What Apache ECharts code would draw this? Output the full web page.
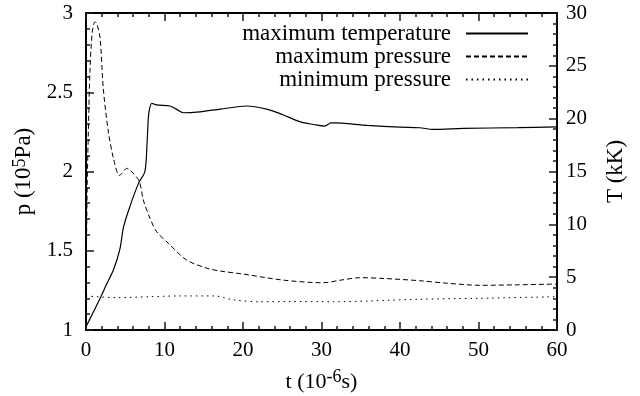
<!DOCTYPE html>
<html>
<head>
<meta charset="utf-8">
<script src="https://cdn.jsdelivr.net/npm/echarts@6/dist/echarts.min.js"></script>
<style>
  html, body { margin: 0; padding: 0; background: #fff; }
  #chart { width: 640px; height: 396px; }
</style>
</head>
<body>
<div id="chart"></div>
<script>
// time in 10^-6 s, temperature in kK, pressure in 10^5 Pa
let tempTime = [0, 0.8, 1.8, 2.6, 3.5, 4.3, 4.8, 5.6, 6.7, 7.5, 7.8, 8.0, 8.4, 9.0, 10.7, 11.5, 12.4, 14.5, 17.1, 20.5, 23.0, 25.0, 27.3, 29.0, 30.4, 31.2, 31.5, 35.8, 40.0, 42.5, 44.2, 48.1, 55.0, 60.0];
let tempMax = [0.3, 1.5, 3.0, 4.3, 5.7, 7.6, 9.8, 11.7, 13.9, 15.0, 18.0, 20.5, 21.45, 21.3, 21.2, 20.9, 20.56, 20.65, 20.9, 21.2, 20.9, 20.4, 19.7, 19.45, 19.3, 19.6, 19.6, 19.37, 19.2, 19.14, 18.99, 19.08, 19.15, 19.23];

let pmaxTime = [0, 0.15, 0.3, 0.5, 0.8, 1.15, 1.4, 1.8, 2.2, 2.85, 3.5, 4.25, 4.6, 5.2, 6.0, 6.8, 7.3, 8.15, 9.0, 10.5, 12.8, 15.4, 17.1, 20.0, 25.1, 30.2, 32.5, 34.9, 38.0, 42.5, 46.0, 50.2, 55.0, 60.0];
let pMax = [1.21, 1.9, 2.25, 2.63, 2.88, 2.945, 2.93, 2.84, 2.525, 2.25, 2.083, 1.974, 1.99, 2.02, 1.99, 1.936, 1.82, 1.705, 1.62, 1.547, 1.442, 1.39, 1.372, 1.353, 1.315, 1.298, 1.315, 1.33, 1.325, 1.311, 1.295, 1.282, 1.285, 1.29];

let pminTime = [0, 3.9, 8.0, 12.0, 16.5, 17.5, 18.8, 22.2, 26.0, 31.5, 36.0, 42.5, 50.0, 60.0];
let pMin = [1.215, 1.204, 1.21, 1.215, 1.215, 1.205, 1.19, 1.178, 1.18, 1.178, 1.183, 1.194, 1.2, 1.21];

let seriesNames = ["maximum temperature", "maximum pressure", "minimum pressure"];

function pairs(xs, ys) {
  return xs.map(function (x, i) { return [x, ys[i]]; });
}

let font = "Liberation Serif";
let chart = echarts.init(document.getElementById("chart"));

// pure black inside ticks did not show up, coloured ones did
let tickColor = "#1a1a1a";
function ticks() {
  return { show: true, inside: true, length: 8, lineStyle: { color: tickColor, width: 1.5 } };
}
function minorTicks() {
  return { show: true, splitNumber: 5, length: 4, lineStyle: { color: tickColor, width: 1.5 } };
}
// right and top axes must stay off the zero line of the other axes
function frame(onZero) {
  return { show: true, onZero: onZero, lineStyle: { color: "#000", width: 2 } };
}
function nameStyle(size) {
  return {
    fontFamily: font,
    fontSize: size,
    color: "#000",
    rich: {
      b: { fontFamily: font, fontSize: size, color: "#000", verticalAlign: "bottom" },
      sup: { fontFamily: font, fontSize: 18, color: "#000", verticalAlign: "bottom", padding: [0, 0, 7, 0] },
    },
  };
}
function labels(margin) {
  return { fontFamily: font, fontSize: 21, color: "#000", margin: margin };
}

chart.setOption({
  backgroundColor: "#fff",
  animation: false,
  textStyle: { fontFamily: font, color: "#000" },
  grid: { left: 86, right: 83, top: 13, bottom: 66, outerBoundsMode: "none" },
  legend: {
    data: seriesNames,
    orient: "vertical",
    align: "right",
    right: 111,
    top: 22,
    padding: 0,
    itemWidth: 62,
    itemHeight: 14,
    itemGap: 0,
    itemStyle: { opacity: 0 },
    textStyle: { fontFamily: font, fontSize: 23, color: "#000", padding: [0, 10, 0, 0] },
  },
  xAxis: [
    {
      type: "value",
      min: 0,
      max: 60,
      interval: 10,
      name: "{b|t (10}{sup|-6}{b|s)}",
      nameLocation: "middle",
      nameGap: 38,
      nameTextStyle: nameStyle(22),
      axisLine: frame(true),
      axisTick: ticks(),
      minorTick: minorTicks(),
      splitLine: { show: false },
      axisLabel: labels(10),
    },
    {
      type: "value",
      position: "top",
      min: 0,
      max: 60,
      interval: 10,
      axisLine: frame(false),
      axisTick: ticks(),
      minorTick: minorTicks(),
      splitLine: { show: false },
      axisLabel: { show: false },
    },
  ],
  yAxis: [
    {
      type: "value",
      min: 1,
      max: 3,
      interval: 0.5,
      name: "{b|p (10}{sup|5}{b|Pa)}",
      nameLocation: "middle",
      nameRotate: 90,
      nameGap: 37,
      nameTextStyle: nameStyle(23),
      axisLine: frame(true),
      axisTick: ticks(),
      minorTick: minorTicks(),
      splitLine: { show: false },
      axisLabel: labels(13),
    },
    {
      type: "value",
      position: "right",
      min: 0,
      max: 30,
      interval: 5,
      name: "T (kK)",
      nameLocation: "middle",
      nameRotate: 90,
      nameGap: 47,
      nameTextStyle: { fontFamily: font, fontSize: 23, color: "#000" },
      axisLine: frame(false),
      axisTick: ticks(),
      minorTick: minorTicks(),
      splitLine: { show: false },
      axisLabel: labels(9),
    },
  ],
  series: [
    {
      name: seriesNames[0],
      type: "line",
      yAxisIndex: 1,
      symbol: "none",
      smooth: 0.3,
      color: "#000",
      lineStyle: { color: "#000", width: 1.2, type: "solid" },
      data: pairs(tempTime, tempMax),
    },
    {
      name: seriesNames[1],
      type: "line",
      yAxisIndex: 0,
      symbol: "none",
      smooth: 0.3,
      color: "#000",
      lineStyle: { color: "#000", width: 1, type: [5, 3] },
      data: pairs(pmaxTime, pMax),
    },
    {
      name: seriesNames[2],
      type: "line",
      yAxisIndex: 0,
      symbol: "none",
      smooth: 0.3,
      color: "#000",
      lineStyle: { color: "#000", width: 1, type: [1.5, 4] },
      data: pairs(pminTime, pMin),
    },
  ],
});
</script>
</body>
</html>
